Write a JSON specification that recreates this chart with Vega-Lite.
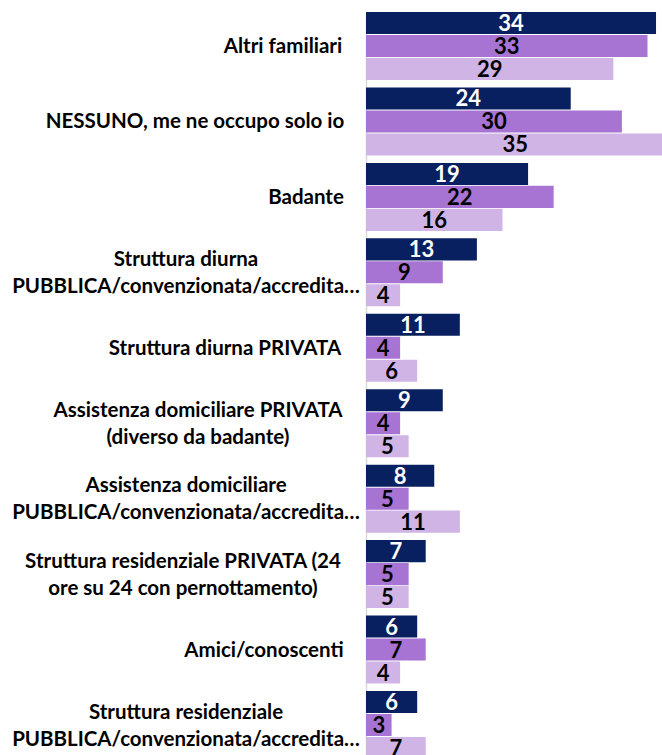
{
  "$schema": "https://vega.github.io/schema/vega-lite/v6.json",
  "width": 296,
  "height": 755,
  "autosize": {"type": "none"},
  "padding": {"left": 366, "top": 0, "right": 0, "bottom": 0},
  "background": "white",
  "config": {"view": {"stroke": null}, "font": "Lato"},
  "data": {
    "values": [
      {"cat": "Altri familiari", "serie": "Serie 1", "v": 34},
      {"cat": "Altri familiari", "serie": "Serie 2", "v": 33},
      {"cat": "Altri familiari", "serie": "Serie 3", "v": 29},
      {"cat": "NESSUNO, me ne occupo solo io", "serie": "Serie 1", "v": 24},
      {"cat": "NESSUNO, me ne occupo solo io", "serie": "Serie 2", "v": 30},
      {"cat": "NESSUNO, me ne occupo solo io", "serie": "Serie 3", "v": 35},
      {"cat": "Badante", "serie": "Serie 1", "v": 19},
      {"cat": "Badante", "serie": "Serie 2", "v": 22},
      {"cat": "Badante", "serie": "Serie 3", "v": 16},
      {"cat": "Struttura diurna|PUBBLICA/convenzionata/accredita…", "serie": "Serie 1", "v": 13},
      {"cat": "Struttura diurna|PUBBLICA/convenzionata/accredita…", "serie": "Serie 2", "v": 9},
      {"cat": "Struttura diurna|PUBBLICA/convenzionata/accredita…", "serie": "Serie 3", "v": 4},
      {"cat": "Struttura diurna PRIVATA", "serie": "Serie 1", "v": 11},
      {"cat": "Struttura diurna PRIVATA", "serie": "Serie 2", "v": 4},
      {"cat": "Struttura diurna PRIVATA", "serie": "Serie 3", "v": 6},
      {"cat": "Assistenza domiciliare PRIVATA|(diverso da badante)", "serie": "Serie 1", "v": 9},
      {"cat": "Assistenza domiciliare PRIVATA|(diverso da badante)", "serie": "Serie 2", "v": 4},
      {"cat": "Assistenza domiciliare PRIVATA|(diverso da badante)", "serie": "Serie 3", "v": 5},
      {"cat": "Assistenza domiciliare|PUBBLICA/convenzionata/accredita…", "serie": "Serie 1", "v": 8},
      {"cat": "Assistenza domiciliare|PUBBLICA/convenzionata/accredita…", "serie": "Serie 2", "v": 5},
      {"cat": "Assistenza domiciliare|PUBBLICA/convenzionata/accredita…", "serie": "Serie 3", "v": 11},
      {"cat": "Struttura residenziale PRIVATA (24|ore su 24 con pernottamento)", "serie": "Serie 1", "v": 7},
      {"cat": "Struttura residenziale PRIVATA (24|ore su 24 con pernottamento)", "serie": "Serie 2", "v": 5},
      {"cat": "Struttura residenziale PRIVATA (24|ore su 24 con pernottamento)", "serie": "Serie 3", "v": 5},
      {"cat": "Amici/conoscenti", "serie": "Serie 1", "v": 6},
      {"cat": "Amici/conoscenti", "serie": "Serie 2", "v": 7},
      {"cat": "Amici/conoscenti", "serie": "Serie 3", "v": 4},
      {"cat": "Struttura residenziale|PUBBLICA/convenzionata/accredita…", "serie": "Serie 1", "v": 6},
      {"cat": "Struttura residenziale|PUBBLICA/convenzionata/accredita…", "serie": "Serie 2", "v": 3},
      {"cat": "Struttura residenziale|PUBBLICA/convenzionata/accredita…", "serie": "Serie 3", "v": 7}
    ]
  },
  "encoding": {
    "y": {
      "field": "cat",
      "type": "nominal",
      "sort": null,
      "title": null,
      "scale": {"range": [12, 759], "paddingInner": 0.0987, "paddingOuter": 0},
      "axis": {
        "domainColor": "#d9d9d9",
        "domainWidth": 1.5,
        "ticks": false,
        "labels": false
      }
    }
  },
  "layer": [
    {
      "mark": {"type": "bar", "clip": true},
      "encoding": {
        "yOffset": {"field": "serie", "type": "nominal", "scale": {"paddingInner": 0.04}},
        "x": {"field": "v", "type": "quantitative", "scale": {"domain": [0, 34.7]}, "axis": null},
        "color": {
          "field": "serie",
          "type": "nominal",
          "scale": {"range": ["#082060", "#a874d4", "#d1b4e6"]},
          "legend": null
        }
      }
    },
    {
      "mark": {"type": "text", "fontWeight": "bold", "fontSize": 22, "baseline": "middle", "align": "center", "dy": 1},
      "encoding": {
        "yOffset": {"field": "serie", "type": "nominal", "scale": {"paddingInner": 0.04}},
        "x": {"field": "v", "type": "quantitative", "scale": {"domain": [0, 69.4]}, "axis": null},
        "text": {"field": "v", "type": "quantitative"},
        "color": {
          "field": "serie",
          "type": "nominal",
          "scale": {"range": ["#ffffff", "#000000", "#000000"]},
          "legend": null
        }
      }
    },
    {
      "transform": [
        {"filter": "datum.serie == 'Serie 1'"},
        {"calculate": "split(datum.cat, '|')", "as": "lines"}
      ],
      "mark": {
        "type": "text",
        "fontWeight": "bold",
        "fontSize": 20.5,
        "lineHeight": 27,
        "baseline": "middle",
        "align": "center",
        "color": "#000000",
        "dx": {"expr": "indexof(datum.cat,'Altri')==0 ? -83 : indexof(datum.cat,'NESSUNO')==0 ? -171 : indexof(datum.cat,'Badante')==0 ? -60 : indexof(datum.cat,'Struttura diurna PRIVATA')==0 ? -141 : indexof(datum.cat,'Assistenza domiciliare PRIVATA')==0 ? -168 : indexof(datum.cat,'Struttura residenziale PRIVATA')==0 ? -183 : indexof(datum.cat,'Amici')==0 ? -102 : -180"},
        "dy": {"expr": "indexof(datum.cat,'|') >= 0 ? -12.5 : 1"}
      },
      "encoding": {
        "x": {"datum": 0, "type": "quantitative", "scale": {"domain": [0, 34.7]}, "axis": null},
        "text": {"field": "lines"}
      }
    }
  ],
  "resolve": {"scale": {"x": "independent", "color": "independent"}}
}
